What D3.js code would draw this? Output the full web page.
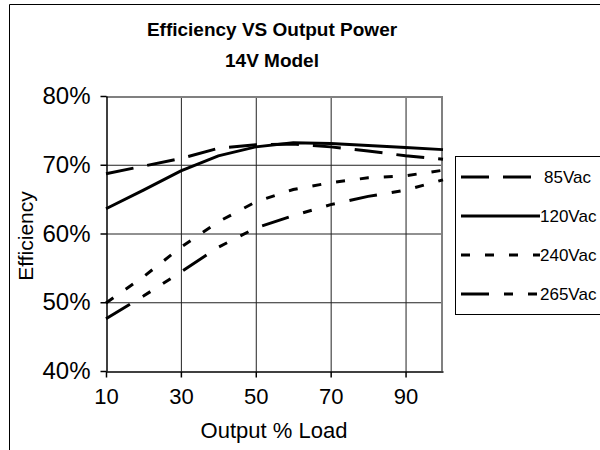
<!DOCTYPE html>
<html>
<head>
<meta charset="utf-8">
<script src="https://cdn.jsdelivr.net/npm/d3@7"></script>
<style>
body { margin: 0; background: #fff; }
text { font-family: "Liberation Sans", Arial, sans-serif; fill: #000; }
</style>
</head>
<body>
<div></div>
<script>
var loads = [10, 20, 30, 40, 50, 60, 70, 80, 90, 100];
var eff85 = [68.7, 69.8, 70.9, 72.4, 72.9, 73.0, 72.6, 72.0, 71.3, 70.8];
var eff120 = [63.6, 66.3, 69.1, 71.3, 72.6, 73.2, 73.1, 72.8, 72.5, 72.2];
var eff240 = [49.9, 53.7, 58.0, 61.7, 64.6, 66.4, 67.4, 68.1, 68.4, 69.2];
var eff265 = [47.6, 50.9, 54.4, 58.0, 60.8, 62.6, 64.2, 65.4, 66.3, 67.8];
var seriesNames = ["85Vac", "120Vac", "240Vac", "265Vac"];
var xTicks = [10, 30, 50, 70, 90];
var yTicks = [40, 50, 60, 70, 80];

var width = 600,
	height = 450,
	plot = {left: 106, right: 443, top: 96, bottom: 371};

// line styles per series, same order as seriesNames
var dashes = ["28,14", null, "9,15", "28,15,9,15,9,15"];

var svgContainer = d3.select("div")
	.append("svg")
	.attr("width", width)
	.attr("height", height);

var xScale = d3.scaleLinear().domain([10, 100]).range([plot.left, plot.right]);
var yScale = d3.scaleLinear().domain([40, 80]).range([plot.bottom, plot.top]);

// outer frame
svgContainer.append("path")
	.attr("d", "M9.5," + height + "V4.5H" + width)
	.attr("fill", "none")
	.attr("stroke", "#000")
	.attr("stroke-width", 1);

// titles
svgContainer.append("text")
	.attr("x", 272).attr("y", 36)
	.attr("text-anchor", "middle")
	.style("font-size", "19px").style("font-weight", "bold")
	.text("Efficiency VS Output Power");
svgContainer.append("text")
	.attr("x", 272).attr("y", 67)
	.attr("text-anchor", "middle")
	.style("font-size", "19px").style("font-weight", "bold")
	.text("14V Model");

// grid lines
svgContainer.append("g")
	.selectAll("line")
	.data(yTicks.slice(1, -1))
	.enter().append("line")
	.attr("x1", plot.left).attr("x2", plot.right)
	.attr("y1", d => yScale(d) + 0.5).attr("y2", d => yScale(d) + 0.5)
	.attr("stroke", "#222").attr("stroke-width", 1);
svgContainer.append("g")
	.selectAll("line")
	.data(xTicks.slice(1))
	.enter().append("line")
	.attr("x1", d => xScale(d) + 0.5).attr("x2", d => xScale(d) + 0.5)
	.attr("y1", plot.top).attr("y2", plot.bottom)
	.attr("stroke", "#222").attr("stroke-width", 1);

// gray top / right border of the plot
svgContainer.append("path")
	.attr("d", "M" + plot.left + "," + (plot.top + 1) + "H" + (plot.right - 1) + "V" + plot.bottom)
	.attr("fill", "none")
	.attr("stroke", "#808080")
	.attr("stroke-width", 2);

// axes
var xAxis = d3.axisBottom(xScale).tickValues(xTicks).tickSize(6).tickPadding(11).tickSizeOuter(0);
var yAxis = d3.axisLeft(yScale).tickValues(yTicks).tickSize(6).tickPadding(10).tickSizeOuter(0)
	.tickFormat(d => d + "%");

var xAxisGroup = svgContainer.append("g")
	.attr("transform", "translate(0," + (plot.bottom + 0.5) + ")")
	.call(xAxis);
var yAxisGroup = svgContainer.append("g")
	.attr("transform", "translate(" + (plot.left + 0.5) + ",0)")
	.call(yAxis);

[xAxisGroup, yAxisGroup].forEach(function(g) {
	g.selectAll("path, line").attr("stroke", "#000").attr("stroke-width", 1.5);
	g.selectAll("text")
		.style("font-family", "'Liberation Sans', Arial, sans-serif")
		.attr("fill", "#000");
});
xAxisGroup.selectAll("text").style("font-size", "22px");
yAxisGroup.selectAll("text").style("font-size", "24px");

svgContainer.append("text")
	.attr("x", 274).attr("y", 438)
	.attr("text-anchor", "middle")
	.style("font-size", "22px")
	.text("Output % Load");
svgContainer.append("text")
	.attr("transform", "translate(33,236) rotate(-90)")
	.attr("text-anchor", "middle")
	.style("font-size", "21px")
	.text("Efficiency");

// series
var allSeries = [eff85, eff120, eff240, eff265];
var line = d3.line()
	.x(d => xScale(d.x))
	.y(d => yScale(d.y));

allSeries.forEach(function(values, i) {
	var points = loads.map((l, j) => ({x: l, y: values[j]}));
	svgContainer.append("path")
		.datum(points)
		.attr("d", line)
		.attr("fill", "none")
		.attr("stroke", "#000")
		.attr("stroke-width", 3)
		.attr("stroke-dasharray", dashes[i]);
});

// legend
var legend = svgContainer.append("g");
legend.append("rect")
	.attr("x", 455.5).attr("y", 156.5)
	.attr("width", 160).attr("height", 158)
	.attr("fill", "#fff")
	.attr("stroke", "#000")
	.attr("stroke-width", 1);

seriesNames.forEach(function(name, i) {
	var yPos = 177 + i * 39;
	legend.append("line")
		.attr("x1", 461).attr("x2", 540)
		.attr("y1", yPos).attr("y2", yPos)
		.attr("stroke", "#000")
		.attr("stroke-width", 3)
		.attr("stroke-dasharray", dashes[i]);
	legend.append("text")
		.attr("x", i === 0 ? 544 : 540)
		.attr("y", yPos)
		.attr("dy", "0.36em")
		.style("font-size", "17px")
		.text(name);
});
</script>
</body>
</html>
